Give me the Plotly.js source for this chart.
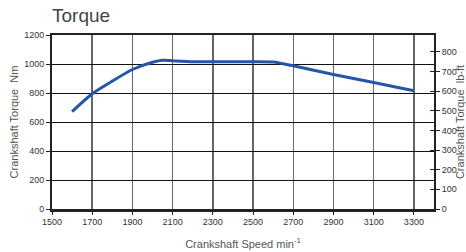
<!DOCTYPE html>
<html>
<head>
<meta charset="utf-8">
<script src="https://cdn.plot.ly/plotly-3.0.1.min.js"></script>
<style>html,body{margin:0;padding:0;background:#fff;}#chart{width:466px;height:252px;}</style>
</head>
<body>
<div id="chart"></div>
<script>
var speedRpm = [1600, 1700, 1800, 1900, 2000, 2050, 2100, 2200, 2300, 2400, 2500, 2600, 2700, 2900, 3100, 3300];
var torqueNm = [672, 795, 882, 962, 1012, 1026, 1022, 1015, 1015, 1015, 1016, 1014, 988, 928, 872, 815];
var xTickVals = [1500, 1700, 1900, 2100, 2300, 2500, 2700, 2900, 3100, 3300];
var nmTickVals = [0, 200, 400, 600, 800, 1000, 1200];
var lbftTickVals = [0, 100, 200, 300, 400, 500, 600, 700, 800];
var NM_TO_LBFT = 0.73756;

var tickFont = {family: 'Liberation Sans, Arial, sans-serif', size: 9, color: '#333'};
var titleFont = {family: 'Liberation Sans, Arial, sans-serif', size: 11, color: '#555'};

var traces = [
  {x: speedRpm, y: torqueNm, type: 'scatter', mode: 'lines', line: {color: '#2356a8', width: 3, shape: 'spline', smoothing: 0.6}, hoverinfo: 'skip', xaxis: 'x', yaxis: 'y'},
  {x: [speedRpm[0]], y: [torqueNm[0] * NM_TO_LBFT], type: 'scatter', mode: 'markers', marker: {opacity: 0}, hoverinfo: 'skip', xaxis: 'x', yaxis: 'y2'},
  {x: [speedRpm[0]], y: [torqueNm[0] * NM_TO_LBFT], type: 'scatter', mode: 'markers', marker: {opacity: 0}, hoverinfo: 'skip', xaxis: 'x', yaxis: 'y3'}
];

var layout = {
  width: 466, height: 252,
  margin: {l: 52, r: 32, t: 35, b: 43},
  paper_bgcolor: '#fff', plot_bgcolor: '#fff',
  showlegend: false,
  title: {text: 'Torque', x: 52/466, xanchor: 'left', xref: 'container', y: 1 - 15/252, yanchor: 'middle', yref: 'container',
          font: {family: 'Liberation Sans, Arial, sans-serif', size: 19, color: '#444'}},
  xaxis: {
    range: [1500, 3400], tickvals: xTickVals, ticktext: xTickVals.map(String),
    showgrid: true, gridcolor: '#666', gridwidth: 1.5,
    showline: true, linecolor: '#222', linewidth: 2.5, mirror: true,
    ticks: 'outside', ticklen: 3, tickcolor: '#222', tickfont: tickFont,
    zeroline: false,
    title: {text: 'Crankshaft Speed min<sup>-1</sup>', font: titleFont, standoff: 14}
  },
  yaxis: {
    range: [0, 1200], tickvals: nmTickVals, ticktext: nmTickVals.map(String),
    showgrid: true, gridcolor: '#111', gridwidth: 1,
    showline: true, linecolor: '#222', linewidth: 2, 
    ticks: 'outside', ticklen: 4, tickcolor: '#222', tickfont: tickFont,
    zeroline: false,
    title: {text: 'Crankshaft Torque  Nm', font: titleFont, standoff: 3}
  },
  yaxis2: {
    overlaying: 'y', side: 'right', anchor: 'x',
    range: [0, 1200 * NM_TO_LBFT], tickvals: lbftTickVals, ticktext: lbftTickVals.map(String),
    showgrid: false, showline: true, linecolor: '#222', linewidth: 2,
    ticks: 'outside', ticklen: 4, tickcolor: '#222', tickfont: tickFont,
    zeroline: false,
    title: {text: 'Crankshaft Torque  lb-ft', font: titleFont, standoff: 8}
  },
  yaxis3: {
    overlaying: 'y', side: 'right', anchor: 'x',
    range: [0, 1200 * NM_TO_LBFT], tickvals: lbftTickVals,
    showgrid: false, showline: false, showticklabels: false,
    ticks: 'inside', ticklen: 4, tickcolor: '#222', zeroline: false
  }
};

Plotly.newPlot('chart', traces, layout, {displayModeBar: false, staticPlot: true});
</script>
</body>
</html>
